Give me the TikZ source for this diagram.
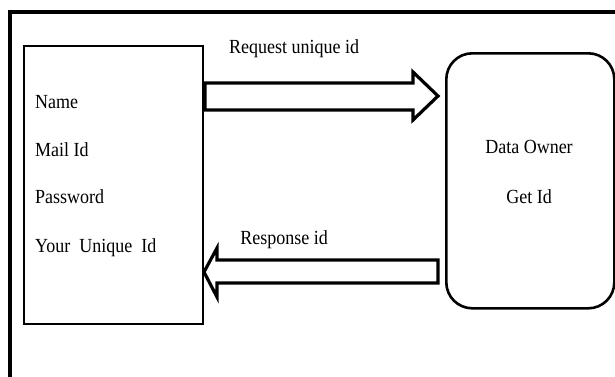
\documentclass[tikz,border=0pt]{standalone}
\usepackage{fontspec}
\setmainfont{Liberation Serif}
\newcommand{\cond}[1]{\scalebox{0.9}[1]{#1}}
\begin{document}
\begin{tikzpicture}[x=1pt,y=-1pt,
  txt/.style={font=\fontsize{20}{22}\selectfont, inner sep=0pt, anchor=base west},
  ctxt/.style={font=\fontsize{20}{22}\selectfont, inner sep=0pt, anchor=base},
  blockarrow/.style={draw=black, line width=3.2pt, fill=white, line join=miter}]
\useasboundingbox (0,0) rectangle (615,376);
\fill[white] (0,0) rectangle (615,376);
% outer frame
\draw[line width=3.4pt] (10,380) -- (10,12) -- (620,12);
% left form box
\node[draw, line width=2.4pt, minimum width=179pt, minimum height=278pt, inner sep=0pt, anchor=north west] (form) at (23,45) {};
\node[txt] (name) at (35,108) {\cond{Name}};
\node[txt] (mail) at (35,156) {\cond{Mail Id}};
\node[txt] (pwd) at (35,203) {\cond{Password}};
\node[txt] (uid) at (35,252) {\cond{Your~ Unique~ Id}};
% data owner
\node[draw, line width=2.6pt, rounded corners=26pt, minimum width=168pt, minimum height=255pt, inner sep=0pt, anchor=north west] (owner) at (445,52) {};
\node[ctxt] (do) at (529,153) {\cond{Data Owner}};
\node[ctxt] (gid) at (529,203) {\cond{Get Id}};
% request arrow
\draw[blockarrow] (205,83) -- (413,83) -- (413,72) -- (438,96) -- (413,120) -- (413,110) -- (205,110) -- cycle;
\node[ctxt] (req) at (294,53) {\cond{Request unique id}};
% response arrow
\draw[blockarrow] (438,260) -- (217,260) -- (217,248) -- (204,272) -- (217,297) -- (217,283) -- (438,283) -- cycle;
\node[ctxt] (resp) at (284,244) {\cond{Response id}};
\end{tikzpicture}
\end{document}
